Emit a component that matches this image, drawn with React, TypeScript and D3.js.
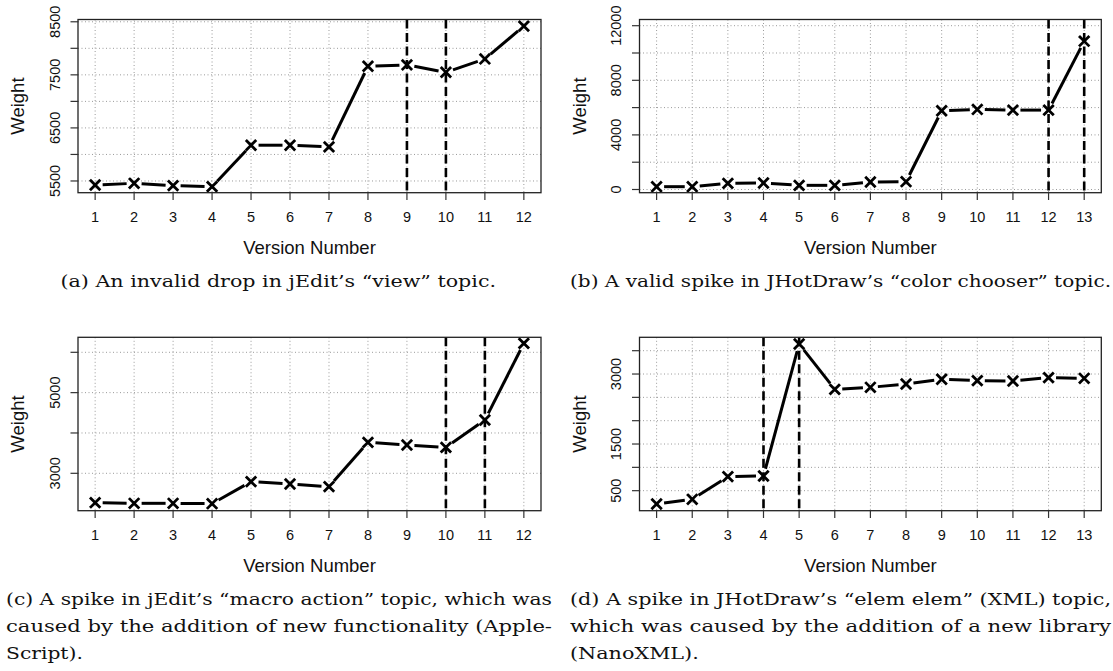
import React, { useLayoutEffect, useRef, useState } from 'react';
import * as d3 from 'd3';

// ---------- data ----------
const versionsA = [1, 2, 3, 4, 5, 6, 7, 8, 9, 10, 11, 12];
const weightsA = [5425, 5456, 5412, 5393, 6174, 6174, 6143, 7662, 7687, 7548, 7800, 8418];
const markedA = [9, 10];
const yTicksA = [5500, 6000, 6500, 7000, 7500, 8000, 8500];
const yLabelsA = [5500, 6500, 7500, 8500];
const yLimA = [5279, 8543];

const versionsB = [1, 2, 3, 4, 5, 6, 7, 8, 9, 10, 11, 12, 13];
const weightsB = [207, 207, 451, 476, 305, 305, 549, 573, 5768, 5866, 5817, 5817, 10866];
const markedB = [12, 13];
const yTicksB = [0, 2000, 4000, 6000, 8000, 10000, 12000];
const yLabelsB = [0, 4000, 8000, 12000];
const yLimB = [-234, 12454];

const versionsC = [1, 2, 3, 4, 5, 6, 7, 8, 9, 10, 11, 12];
const weightsC = [2272, 2256, 2256, 2247, 2793, 2735, 2669, 3768, 3702, 3644, 4321, 6222];
const markedC = [10, 11];
const yTicksC = [3000, 4000, 5000, 6000];
const yLabelsC = [3000, 5000];
const yLimC = [2073, 6372];

const versionsD = [1, 2, 3, 4, 5, 6, 7, 8, 9, 10, 11, 12, 13];
const weightsD = [215, 315, 801, 815, 3644, 2672, 2715, 2787, 2887, 2858, 2851, 2922, 2908];
const markedD = [4, 5];
const yTicksD = [500, 1000, 1500, 2000, 2500, 3000, 3500];
const yLabelsD = [500, 1500, 3000];
const yLimD = [71, 3787];

const captionA = ['(a) An invalid drop in jEdit’s “view” topic.'];
const captionB = ['(b) A valid spike in JHotDraw’s “color chooser” topic.'];
const captionC = [
  '(c) A spike in jEdit’s “macro action” topic, which was',
  'caused by the addition of new functionality (Apple-',
  'Script).',
];
const captionD = [
  '(d) A spike in JHotDraw’s “elem elem” (XML) topic,',
  'which was caused by the addition of a new library',
  '(NanoXML).',
];

const xTitle = 'Version Number';
const yTitle = 'Weight';

// ---------- layout ----------
const W = 1113;
const H = 671;
const SANS = 'Liberation Sans, Arial, Helvetica, sans-serif';
const SERIF = 'DejaVu Serif, serif';

type Box = { x0: number; x1: number; y0: number; y1: number };

function Panel(props: {
  versions: number[];
  weights: number[];
  marked: number[];
  yTicks: number[];
  yLabels: number[];
  yLim: number[];
  box: Box;
}) {
  const { versions, weights, marked, yTicks, yLabels, yLim, box } = props;
  const n = versions.length;
  const pad = (n - 1) * 0.04;
  const x = d3
    .scaleLinear()
    .domain([versions[0] - pad, versions[n - 1] + pad])
    .range([box.x0, box.x1]);
  const y = d3.scaleLinear().domain(yLim).range([box.y1, box.y0]);

  const pts = versions.map((v, i) => [x(v), y(weights[i])] as [number, number]);
  const gap = 7.5;
  const segs = pts.slice(1).map((p1, i) => {
    const p0 = pts[i];
    const dx = p1[0] - p0[0];
    const dy = p1[1] - p0[1];
    const len = Math.hypot(dx, dy);
    const ux = dx / len;
    const uy = dy / len;
    return [p0[0] + ux * gap, p0[1] + uy * gap, p1[0] - ux * gap, p1[1] - uy * gap];
  });
  const line = d3.line();
  const cx = (box.x0 + box.x1) / 2;
  const cy = (box.y0 + box.y1) / 2;
  const m = 4.2;

  return (
    <g>
      {versions.map((v) => (
        <line
          key={'gv' + v}
          x1={x(v)}
          x2={x(v)}
          y1={box.y0}
          y2={box.y1}
          stroke="#9a9a9a"
          strokeWidth={1}
          strokeDasharray="1,2.5"
        />
      ))}
      {yTicks.map((t) => (
        <line
          key={'gh' + t}
          x1={box.x0}
          x2={box.x1}
          y1={y(t)}
          y2={y(t)}
          stroke="#9a9a9a"
          strokeWidth={1}
          strokeDasharray="1,2.5"
        />
      ))}
      {marked.map((v) => (
        <line
          key={'mk' + v}
          x1={x(v)}
          x2={x(v)}
          y1={box.y0}
          y2={box.y1}
          stroke="#000"
          strokeWidth={2.6}
          strokeDasharray="9,4.5"
        />
      ))}
      {segs.map((s, i) => (
        <path
          key={'s' + i}
          d={line([[s[0], s[1]], [s[2], s[3]]]) || ''}
          stroke="#000"
          strokeWidth={3}
          fill="none"
        />
      ))}
      {pts.map((p, i) => (
        <g key={'p' + i} stroke="#000" strokeWidth={2.8} strokeLinecap="square">
          <line x1={p[0] - m} y1={p[1] - m} x2={p[0] + m} y2={p[1] + m} />
          <line x1={p[0] - m} y1={p[1] + m} x2={p[0] + m} y2={p[1] - m} />
        </g>
      ))}
      <rect
        x={box.x0}
        y={box.y0}
        width={box.x1 - box.x0}
        height={box.y1 - box.y0}
        fill="none"
        stroke="#222"
        strokeWidth={1.3}
      />
      {versions.map((v) => (
        <g key={'xt' + v}>
          <line x1={x(v)} x2={x(v)} y1={box.y1} y2={box.y1 + 7.3} stroke="#333" strokeWidth={1.2} />
          <text
            x={x(v)}
            y={box.y1 + 29.5}
            textAnchor="middle"
            fontFamily={SANS}
            fontSize={14.5}
            fill="#111"
          >
            {v}
          </text>
        </g>
      ))}
      {yTicks.map((t) => (
        <line
          key={'yt' + t}
          x1={box.x0}
          x2={box.x0 - 7.5}
          y1={y(t)}
          y2={y(t)}
          stroke="#333"
          strokeWidth={1.2}
        />
      ))}
      {yLabels.map((t) => (
        <text
          key={'yl' + t}
          transform={`translate(${box.x0 - 18.5},${y(t)}) rotate(-90)`}
          textAnchor="middle"
          fontFamily={SANS}
          fontSize={14.5}
          fill="#111"
        >
          {t}
        </text>
      ))}
      <text
        x={cx}
        y={box.y1 + 61.3}
        textAnchor="middle"
        fontFamily={SANS}
        fontSize={18.5}
        fill="#111"
      >
        {xTitle}
      </text>
      <text
        transform={`translate(${box.x0 - 54},${cy}) rotate(-90)`}
        textAnchor="middle"
        fontFamily={SANS}
        fontSize={18.5}
        fill="#111"
      >
        {yTitle}
      </text>
    </g>
  );
}

function Caption(props: { lines: string[]; x0: number; x1: number; y: number; centered?: boolean }) {
  const { lines, x0, x1, y, centered } = props;
  const lh = 27;
  const refs = useRef<(SVGTextElement | null)[]>([]);
  const [lens, setLens] = useState<number[] | null>(null);
  useLayoutEffect(() => {
    if (lens) return;
    const l = refs.current.map((el) => (el ? el.getComputedTextLength() : 0));
    if (l.every((v) => v > 0)) setLens(l);
  });
  const full = x1 - x0;
  const ratio = lens ? full / lens[0] : 1;
  return (
    <g fontFamily={SERIF} fontSize={16} fill="#111">
      {lines.map((l, i) => {
        const justify = centered || i < lines.length - 1;
        const tl = lens ? (justify ? full : lens[i] * ratio) : undefined;
        return (
          <text
            key={i}
            ref={(el) => {
              refs.current[i] = el;
            }}
            x={x0}
            y={y + i * lh}
            textLength={tl}
            lengthAdjust={tl ? 'spacingAndGlyphs' : undefined}
          >
            {l}
          </text>
        );
      })}
    </g>
  );
}

export default function App() {
  const left = { x0: 78, x1: 541 };
  const right = { x0: 639.5, x1: 1101.3 };
  const top = { y0: 19.5, y1: 192.7 };
  const bottom = { y0: 337.3, y1: 510.7 };
  return (
    <svg
      width={W}
      height={H}
      viewBox={`0 0 ${W} ${H}`}
      style={{ position: 'absolute', left: 0, top: 0, background: '#fff' }}
    >
      <rect width={W} height={H} fill="#fff" />
      <Panel versions={versionsA} weights={weightsA} marked={markedA} yTicks={yTicksA} yLabels={yLabelsA} yLim={yLimA} box={{ ...left, ...top }} />
      <Panel versions={versionsB} weights={weightsB} marked={markedB} yTicks={yTicksB} yLabels={yLabelsB} yLim={yLimB} box={{ ...right, ...top }} />
      <Panel versions={versionsC} weights={weightsC} marked={markedC} yTicks={yTicksC} yLabels={yLabelsC} yLim={yLimC} box={{ ...left, ...bottom }} />
      <Panel versions={versionsD} weights={weightsD} marked={markedD} yTicks={yTicksD} yLabels={yLabelsD} yLim={yLimD} box={{ ...right, ...bottom }} />
      <Caption lines={captionA} x0={60.5} x1={496} y={286.7} centered />
      <Caption lines={captionB} x0={570} x1={1111} y={286.7} centered />
      <Caption lines={captionC} x0={6} x1={552} y={605} />
      <Caption lines={captionD} x0={570} x1={1111} y={605} />
    </svg>
  );
}
